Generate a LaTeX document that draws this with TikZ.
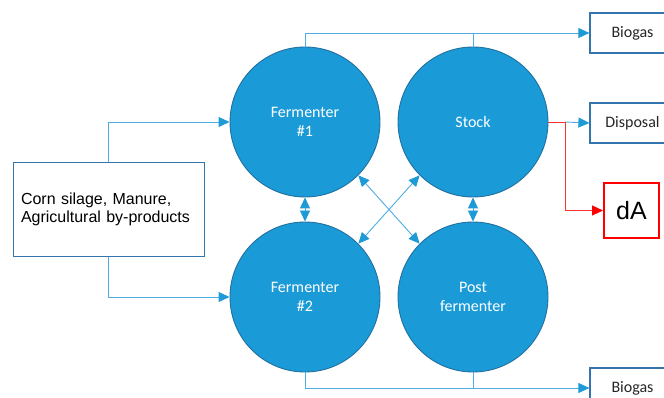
\documentclass[tikz,border=0pt]{standalone}
\usepackage{fontspec}
\setmainfont{Liberation Sans}
\newfontfamily\calfont{Carlito}
\usetikzlibrary{arrows.meta}
\definecolor{tankfill}{HTML}{1A9BD7}
\definecolor{tankdraw}{HTML}{22709F}
\definecolor{flowcol}{HTML}{4FACE0}
\definecolor{headcol}{HTML}{1E9BD7}
\definecolor{boxdraw}{HTML}{3575AE}
\definecolor{labcol}{HTML}{262626}
\definecolor{redline}{HTML}{FF3030}
\tikzset{
  tank/.style={circle, fill=tankfill, draw=tankdraw, line width=0.9pt, minimum size=150pt, inner sep=0pt, text=white, align=center, font=\calfont\fontsize{16}{19}\selectfont},
  outbox/.style={rectangle, draw=boxdraw, line width=1.2pt, minimum width=85pt, minimum height=40pt, inner sep=0pt, text=labcol, font=\calfont\fontsize{16}{18}\selectfont},
  inbox/.style={rectangle, draw=boxdraw, line width=1pt, minimum width=191pt, minimum height=93pt, text width=175pt, align=left, inner sep=0pt, font=\fontsize{16}{18.5}\selectfont},
  redbox/.style={rectangle, draw=red, line width=2pt, minimum width=55pt, minimum height=55pt, inner sep=0pt, font=\fontsize{25}{28}\selectfont},
  flow/.style={draw=flowcol, line width=0.9pt, -{Triangle[length=11pt,width=10pt,fill=headcol,color=headcol]}},
  flowplain/.style={draw=flowcol, line width=0.9pt},
  flowtwo/.style={draw=flowcol, line width=0.9pt, {Triangle[length=11pt,width=10pt,fill=headcol,color=headcol]}-{Triangle[length=11pt,width=10pt,fill=headcol,color=headcol]}},
  redflow/.style={draw=redline, line width=0.9pt, -{Triangle[length=11pt,width=10pt,fill=red,color=red]}},
  redplain/.style={draw=redline, line width=0.9pt},
}
\begin{document}
\begin{tikzpicture}[x=1pt, y=-1pt]
\useasboundingbox (0,0) rectangle (664,398);
\node[tank] (f1) at (305,122) {Fermenter\\\#1};
\node[tank] (st) at (473,122) {Stock};
\node[tank] (f2) at (305,297) {Fermenter\\\#2};
\node[tank] (pf) at (473,297) {Post\\fermenter};
\node[inbox] (in) at (108.5,209.5) {Corn silage, Manure,\\Agricultural by-products};
\node[outbox] (bio1) at (632.5,33) {Biogas};
\node[outbox] (disp) at (632.5,123) {Disposal};
\node[outbox] (bio2) at (632.5,388) {Biogas};
\node[redbox] (da) at (631.5,210.5) {dA};
\coordinate (rj) at (565,122);
% inputs
\draw[flow] (in.north) |- (f1.west);
\draw[flow] (in.south) |- (f2.west);
% biogas top
\draw[flow] (f1.north) |- (bio1.west);
\draw[flowplain] (st.north) -- (st.north |- bio1.west);
% biogas bottom
\draw[flow] (f2.south) |- (bio2.west);
\draw[flowplain] (pf.south) -- (pf.south |- bio2.west);
% exchanges
\draw[flowtwo] (f1.south) -- (f2.north);
\draw[flowtwo] (st.south) -- (pf.north);
\draw[flowtwo] (f1.-45) -- (pf.135);
\draw[flowtwo] (st.-135) -- (f2.45);
% stock outputs
\draw[redplain] (st.east) -- (rj);
\draw[flow] (rj) -- (disp.west);
\draw[redflow] (rj) |- (da.west);
\end{tikzpicture}
\end{document}
